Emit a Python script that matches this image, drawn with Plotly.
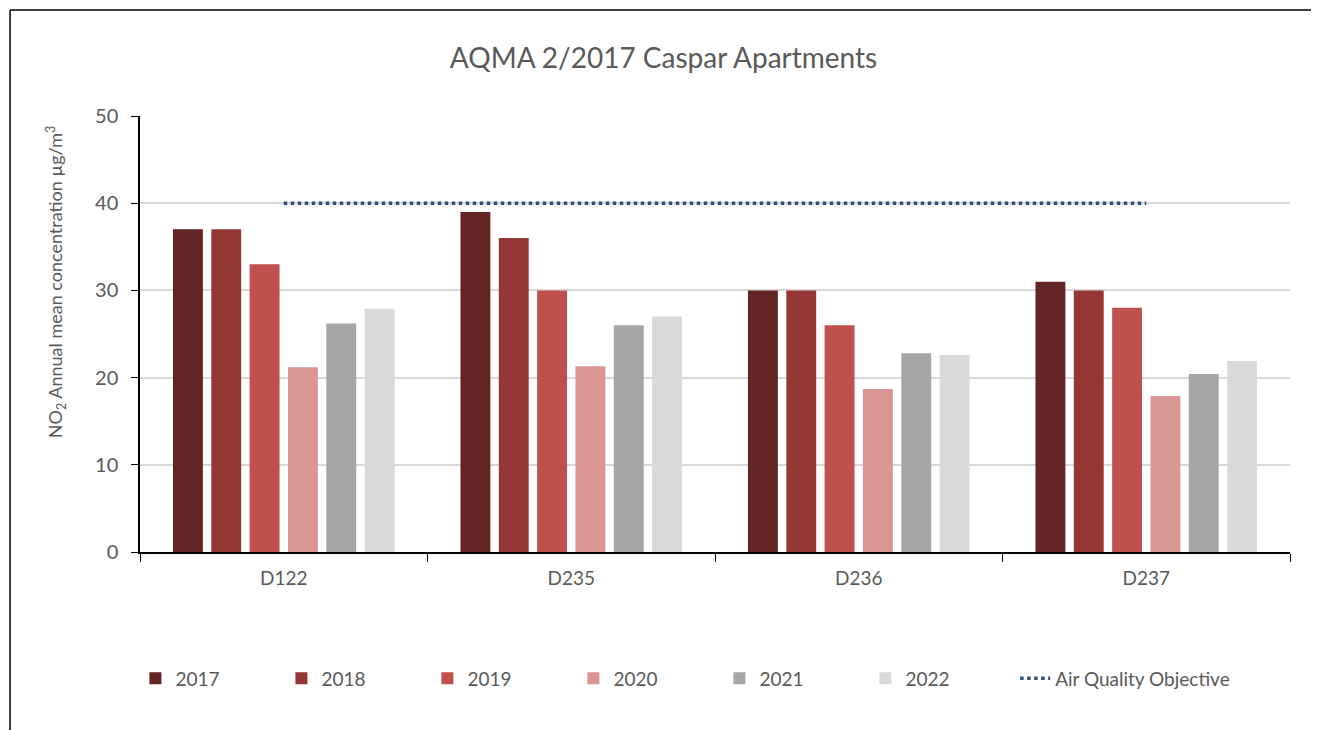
import plotly.graph_objects as go

sites = ["D122", "D235", "D236", "D237"]
years = ["2017", "2018", "2019", "2020", "2021", "2022"]
values = {
    "2017": [37.0, 39.0, 30.0, 31.0],
    "2018": [37.0, 36.0, 30.0, 30.0],
    "2019": [33.0, 30.0, 26.0, 28.0],
    "2020": [21.2, 21.3, 18.7, 17.9],
    "2021": [26.2, 26.0, 22.8, 20.4],
    "2022": [27.9, 27.0, 22.6, 21.9],
}
colors = {
    "2017": "#632523",
    "2018": "#953735",
    "2019": "#C0504D",
    "2020": "#D99694",
    "2021": "#A6A6A6",
    "2022": "#D9D9D9",
}
objective = [40, 40, 40, 40]

fig = go.Figure()
for y in years:
    fig.add_trace(go.Bar(x=sites, y=values[y], name=y,
                         marker=dict(color=colors[y], line=dict(width=0))))
fig.add_trace(go.Scatter(x=sites, y=objective, name="Air Quality Objective",
                         mode="lines", line=dict(color="#2F4F7F", width=3.5, dash="dot"),
                         legend="legend2"))

fig.update_layout(
    width=1311, height=722,
    margin=dict(l=132, r=29, t=108, b=178),
    paper_bgcolor="white", plot_bgcolor="white",
    font=dict(family="Lato, Open Sans, sans-serif", color="#595959"),
    title=dict(text="AQMA 2/2017 Caspar Apartments", x=0.5, xanchor="center",
               y=0.93, yanchor="middle", font=dict(size=28, color="#595959")),
    barmode="group", bargap=0.2, bargroupgap=0.22,
    legend=dict(orientation="h", x=-0.004, xanchor="left", y=-0.29, yanchor="middle",
                font=dict(size=19, color="#595959"), traceorder="normal",
                entrywidth=101, entrywidthmode="pixels"),
    legend2=dict(orientation="h", x=0.761, xanchor="left", y=-0.29, yanchor="middle",
                 font=dict(size=19, color="#595959")),
    showlegend=True,
)
fig.update_xaxes(showline=True, linecolor="black", linewidth=1.5,
                 ticks="outside", tickson="boundaries", ticklen=8, tickcolor="black",
                 ticklabelstandoff=8,
                 tickfont=dict(size=19, color="#595959"), showgrid=False)
fig.update_yaxes(range=[0, 50], dtick=10, showline=True, linecolor="black", linewidth=1.5,
                 ticks="outside", ticklen=7, tickcolor="black",
                 ticklabelstandoff=9,
                 tickfont=dict(size=20, color="#595959"),
                 gridcolor="#D9D9D9", gridwidth=1.5, zeroline=False)

fig.add_annotation(text="NO<sub>2</sub> Annual mean concentration µg/m<sup>3</sup>",
                   xref="paper", yref="paper", x=-0.073, y=0.619, textangle=-90,
                   xanchor="center", yanchor="middle", showarrow=False,
                   font=dict(size=18, color="#595959"))

# chart frame
fig.add_shape(type="line", xref="paper", yref="paper", x0=-0.113, x1=1.05, y0=1.243, y1=1.243,
              line=dict(color="black", width=1.5))
fig.add_shape(type="line", xref="paper", yref="paper", x0=-0.113, x1=-0.113, y0=1.243, y1=-0.45,
              line=dict(color="black", width=1.5))

fig.write_html("out.html")
